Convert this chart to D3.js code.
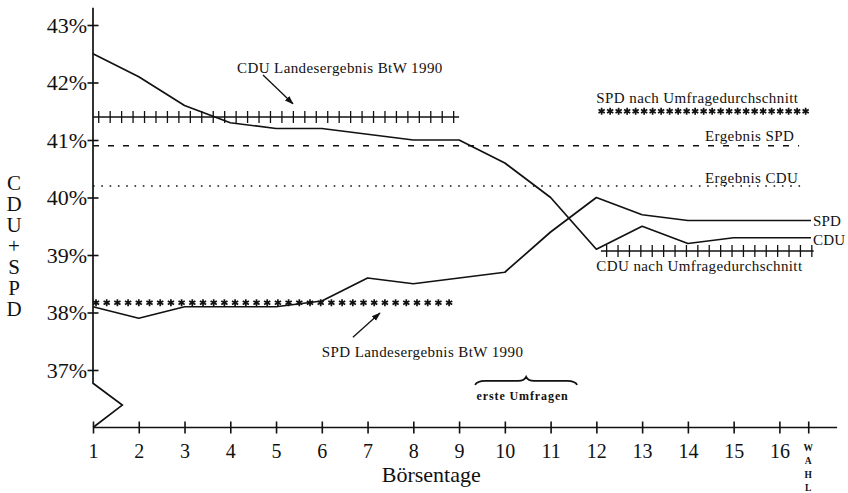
<!DOCTYPE html>
<html><head><meta charset="utf-8">
<script src="https://cdn.jsdelivr.net/npm/d3@7"></script>
<style>
body{margin:0;background:#fff;}
svg{display:block;font-family:"Liberation Serif","Times New Roman",serif;}
</style></head>
<body><svg id="c" width="848" height="493"></svg>
<script>
// ---- data ----
const days = [1,2,3,4,5,6,7,8,9,10,11,12,13,14,15,16];
const cdu  = [42.5,42.1,41.6,41.3,41.2,41.2,41.1,41.0,41.0,40.6,40.0,39.1,39.5,39.2,39.3,39.3];
const spd  = [38.1,37.9,38.1,38.1,38.1,38.2,38.6,38.5,38.6,38.7,39.4,40.0,39.7,39.6,39.6,39.6];
const wahlDay = 16.63;           // election day position on the axis
const lineEndDay = 16.69;
const yTicks = [37,38,39,40,41,42,43];
const yTickLabels = ["37%","38%","39%","40%","41%","42%","43%"];
const xTickLabels = ["1","2","3","4","5","6","7","8","9","10","11","12","13","14","15","16"];
const yTitle = "CDU+SPD";
const wahlLetters = ["W","A","H","L"];
// reference levels [value, fromDay, toDay]
const cduLandes = [41.4, 1, 9];
const spdLandes = [38.17, 1, 8.95];
const spdUmfrage = [41.5, 12.05, 16.65];
const cduUmfrage = [39.07, 12.1, 16.75];
const ergSPD = [40.9, 1, 16.43];
const ergCDU = [40.2, 1, 16.55];

const svg = d3.select("#c");
const x = d3.scaleLinear().domain([1,16]).range([93,779.4]);
const y = d3.scaleLinear().domain([36,43]).range([427.5,25]);
const ink = "#111";

// ---- axes ----
const yAxis = d3.axisLeft(y).tickValues(yTicks).tickFormat((d,i)=>yTickLabels[i]).tickSize(0).tickPadding(6);
const gy = svg.append("g").attr("transform","translate(93,0)").call(yAxis);
gy.select(".domain").remove();
gy.selectAll(".tick line").attr("x1",-5.5).attr("x2",5.5).attr("stroke",ink).attr("stroke-width",1.6);
gy.selectAll(".tick text").attr("font-size",22).attr("font-family","Liberation Serif").attr("fill",ink).attr("x",-6);
// y axis line with break
svg.append("path").attr("fill","none").attr("stroke",ink).attr("stroke-width",1.7)
  .attr("d",`M${x(1)},${y(43.3)} L${x(1)},${y(36.77)} L${x(1.64)},${y(36.39)} L${x(1)},${y(36)}`);

const xAxis = d3.axisBottom(x).tickValues(days.concat([wahlDay])).tickFormat((d,i)=> i<16 ? xTickLabels[i] : "").tickSize(0).tickPadding(16);
const gx = svg.append("g").attr("transform",`translate(0,${y(36)})`).call(xAxis);
gx.select(".domain").remove();
gx.selectAll(".tick line").attr("y1",-6).attr("y2",6).attr("stroke",ink).attr("stroke-width",1.6);
gx.selectAll(".tick text").attr("font-size",20).attr("font-family","Liberation Serif").attr("fill",ink);
svg.append("line").attr("x1",x(1)).attr("x2",x(17.26)).attr("y1",y(36)).attr("y2",y(36))
  .attr("stroke",ink).attr("stroke-width",1.7);

// WAHL vertical letters
svg.append("g").selectAll("text").data(wahlLetters).join("text")
  .attr("x",x(wahlDay)).attr("y",(d,i)=>y(36)+23+i*13.5)
  .attr("text-anchor","middle").attr("font-size",9.5).attr("font-weight","bold").attr("fill",ink).text(d=>d);

// axis titles
svg.append("text").attr("x",(x(1)+x(16))/2 - 5).attr("y",482).attr("text-anchor","middle")
  .attr("font-size",22).attr("fill",ink).text("Börsentage");
svg.append("text").attr("x",14).attr("y",171)
  .style("writing-mode","vertical-rl").style("text-orientation","upright")
  .attr("font-size",21).attr("letter-spacing",-3).attr("fill",ink).text(yTitle);

// ---- reference lines ----
function hline(ref, dash, w){
  svg.append("line").attr("x1",x(ref[1])).attr("x2",x(ref[2])).attr("y1",y(ref[0])).attr("y2",y(ref[0]))
    .attr("stroke",ink).attr("stroke-width",w).attr("stroke-dasharray",dash);
}
hline(ergSPD,"6 9",1.4);
hline(ergCDU,"1.6 6.7",1.6);

function plusLine(ref, step){
  const x0=x(ref[1]), x1=x(ref[2]), yy=y(ref[0]);
  svg.append("line").attr("x1",x0).attr("x2",x1).attr("y1",yy).attr("y2",yy).attr("stroke",ink).attr("stroke-width",1.6);
  svg.append("g").selectAll("line").data(d3.range(x0+step/2, x1, step)).join("line")
    .attr("x1",d=>d).attr("x2",d=>d).attr("y1",yy-6).attr("y2",yy+6).attr("stroke",ink).attr("stroke-width",1.3);
}
plusLine(cduLandes, 11.45);
plusLine(cduUmfrage, 11.4);

function starLine(ref, step){
  const x0=x(ref[1]), x1=x(ref[2]), yy=y(ref[0]);
  const r=3.6;
  let p="";
  for(let a=0;a<3;a++){ const t=Math.PI/2 + a*Math.PI/3; p+=`M${-r*Math.cos(t)},${-r*Math.sin(t)}L${r*Math.cos(t)},${r*Math.sin(t)}`; }
  svg.append("g").selectAll("path").data(d3.range(x0+3, x1, step)).join("path")
    .attr("transform",d=>`translate(${d},${yy})`).attr("d",p).attr("stroke",ink).attr("stroke-width",1.7);
}
starLine(spdLandes, 10.7);
starLine(spdUmfrage, 8.5);

// ---- data lines ----
const line = d3.line().x(d=>x(d[0])).y(d=>y(d[1]));
const cduPts = days.map((d,i)=>[d,cdu[i]]).concat([[lineEndDay,cdu[cdu.length-1]]]);
const spdPts = days.map((d,i)=>[d,spd[i]]).concat([[lineEndDay,spd[spd.length-1]]]);
svg.append("path").attr("d",line(cduPts)).attr("fill","none").attr("stroke",ink).attr("stroke-width",1.7).attr("stroke-linejoin","round");
svg.append("path").attr("d",line(spdPts)).attr("fill","none").attr("stroke",ink).attr("stroke-width",1.7).attr("stroke-linejoin","round");

// ---- labels ----
const small = (t, d, v, opts={}) => svg.append("text").attr("x",x(d)).attr("y",y(v)).attr("dy","0.35em")
  .attr("font-size",opts.size||15).attr("letter-spacing",opts.ls==null?0.4:opts.ls)
  .attr("font-weight",opts.bold?"bold":"normal").attr("fill",ink).text(t);
small("CDU Landesergebnis BtW 1990", 4.148, 42.25);
small("SPD Landesergebnis BtW 1990", 6.0, 37.31);
small("SPD nach Umfragedurchschnitt", 12.0, 41.73);
small("Ergebnis SPD", 14.375, 41.07);
small("Ergebnis CDU", 14.375, 40.35);
small("CDU nach Umfragedurchschnitt", 12.0, 38.82);
small("SPD", 16.735, spd[15], {ls:0.2});
small("CDU", 16.735, 39.27, {ls:0.2});
small("erste Umfragen", 9.38, 36.55, {size:12, bold:true, ls:0.9});

// arrows
svg.append("defs").append("marker").attr("id","ah").attr("viewBox","0 0 10 10").attr("refX",9).attr("refY",5)
  .attr("markerWidth",9).attr("markerHeight",9).attr("markerUnits","userSpaceOnUse").attr("orient","auto")
  .append("path").attr("d","M0,1.5 L10,5 L0,8.5 Z").attr("fill",ink);
const arrows = [[[4.715,42.13],[5.37,41.63]], [[6.68,37.57],[7.27,37.99]]];
svg.append("g").selectAll("line").data(arrows).join("line")
  .attr("x1",d=>x(d[0][0])).attr("y1",d=>y(d[0][1])).attr("x2",d=>x(d[1][0])).attr("y2",d=>y(d[1][1]))
  .attr("stroke",ink).attr("stroke-width",1.3).attr("marker-end","url(#ah)");

// brace over "erste Umfragen"
const bx0=x(9.35), bx1=x(11.58), bm=(bx0+bx1)/2, by=y(36.74), bt=y(36.88);
svg.append("path").attr("fill","none").attr("stroke",ink).attr("stroke-width",1.8)
  .attr("d",`M${bx0},${by} Q${bx0+2},${by-4} ${bx0+10},${by-4} L${bm-8},${by-4} Q${bm-2},${by-4} ${bm},${bt} Q${bm+2},${by-4} ${bm+8},${by-4} L${bx1-10},${by-4} Q${bx1-2},${by-4} ${bx1},${by}`);
</script></body></html>
